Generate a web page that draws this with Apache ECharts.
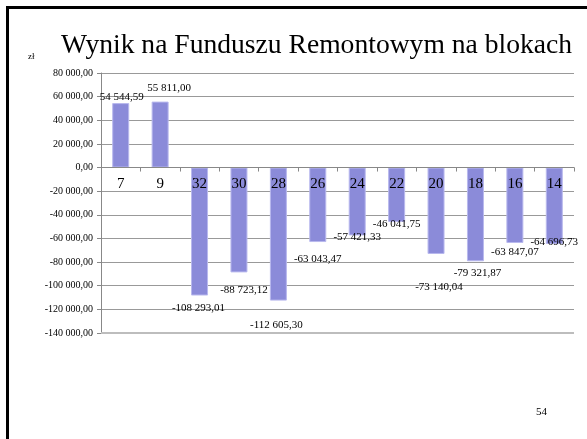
<!DOCTYPE html>
<html>
<head>
<meta charset="utf-8">
<script src="https://cdn.jsdelivr.net/npm/echarts@6/dist/echarts.min.js"></script>
<style>
  html, body { margin: 0; padding: 0; background: #fff; }
  #chart { width: 587px; height: 439px; }
</style>
</head>
<body>
<div id="chart"></div>
<script>
// blocks (x axis) and fund result per block, in zł
const categories = ['7', '9', '32', '30', '28', '26', '24', '22', '20', '18', '16', '14'];
const values = [54544.59, 55811.00, -108293.01, -88723.12, -112605.30, -63043.47,
                -57421.33, -46041.75, -73140.04, -79321.87, -63847.07, -64696.73];
const yMin = -140000;
const yMax = 80000;
const yStep = 20000;

// hand-placed data labels in the original slide: [dx, dy] from the default spot
const labelNudge = [[1, 5], [9, -3], [-1, 2], [5, 7], [-2, 14], [0, 7],
                    [0, -9], [0, -8], [3, 23], [2, 1], [0, -1], [0, -12]];

function fmt(v) {
  const neg = v < 0;
  let [i, d] = Math.abs(v).toFixed(2).split('.');
  i = i.replace(/\B(?=(\d{3})+(?!\d))/g, ' ');
  return (neg ? '-' : '') + i + ',' + d;
}

const serif = 'Liberation Serif, Times New Roman, serif';
const gridTop = 73, gridBottom = 106, chartH = 439;
// category axis sits on the zero line, like the slide
const zeroOffset = -(chartH - gridTop - gridBottom) * (0 - yMin) / (yMax - yMin);

let barData = values.map((v, k) => ({
  value: v,
  label: {
    position: v >= 0 ? 'top' : 'bottom',
    offset: labelNudge[k]
  }
}));

let option = {
  animation: false,
  textStyle: { fontFamily: serif },
  title: {
    text: 'Wynik na Funduszu Remontowym na blokach',
    left: 61,
    top: 32,
    padding: 0,
    textStyle: { fontFamily: serif, fontSize: 27.6, fontWeight: 'normal', color: '#000' }
  },
  graphic: [
    { type: 'rect', shape: { x: 6, y: 6, width: 3, height: 433 }, style: { fill: '#000' } },
    { type: 'rect', shape: { x: 6, y: 6, width: 581, height: 3 }, style: { fill: '#000' } },
    { type: 'text', left: 28, top: 52, style: { text: 'zł', fontFamily: serif, fontSize: 9, fill: '#000' } },
    { type: 'text', left: 536, top: 407, style: { text: '54', fontFamily: serif, fontSize: 11, fill: '#000' } }
  ],
  grid: { left: 101, right: 13, top: gridTop, bottom: gridBottom },
  xAxis: {
    type: 'category',
    data: categories,
    z: 3,
    offset: zeroOffset,
    axisLine: { onZero: false, lineStyle: { color: '#888' } },
    axisTick: { show: true, length: 4, lineStyle: { color: '#888' } },
    axisLabel: { fontFamily: serif, fontSize: 15, color: '#000', margin: 9 }
  },
  yAxis: {
    type: 'value',
    min: yMin,
    max: yMax,
    interval: yStep,
    axisLine: { show: true, lineStyle: { color: '#888' } },
    axisTick: { show: true, length: 4, lineStyle: { color: '#888' } },
    splitLine: { lineStyle: { color: '#999' } },
    axisLabel: { fontFamily: serif, fontSize: 10, color: '#000', margin: 8, formatter: fmt }
  },
  series: [{
    type: 'bar',
    data: barData,
    barWidth: 17,
    itemStyle: { color: '#8b8bd9', borderColor: '#b9b9ee', borderWidth: 1 },
    label: {
      show: true,
      fontFamily: serif,
      fontSize: 11,
      color: '#000',
      formatter: p => fmt(p.value)
    },
    markLine: {
      silent: true,
      symbol: 'none',
      label: { show: false },
      lineStyle: { color: '#bdbdbd', width: 2, type: 'solid' },
      data: [{ yAxis: yMin }]
    }
  }]
};

let myChart = echarts.init(document.getElementById('chart'));
myChart.setOption(option);
</script>
</body>
</html>
